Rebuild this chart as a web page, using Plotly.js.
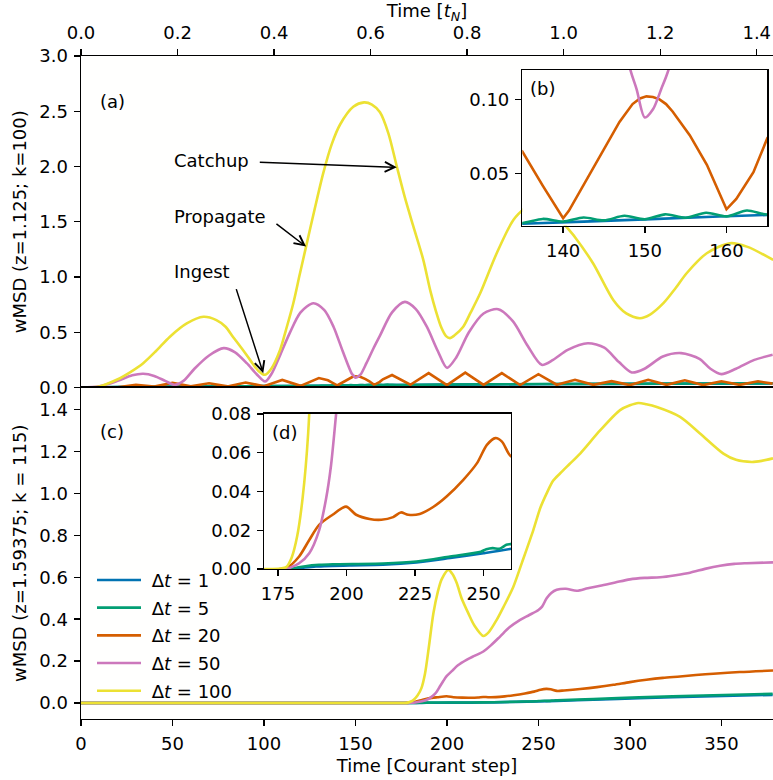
<!DOCTYPE html>
<html><head><meta charset="utf-8">
<script src="https://cdn.plot.ly/plotly-3.0.1.min.js"></script>
<style>html,body{margin:0;padding:0;background:#fff}</style>
</head><body><div id="chart" style="width:773px;height:780px"></div>
<script>
// ---------- series labels & colours ----------
const seriesNames = ['\u00a0Δ<i>t</i> = 1', '\u00a0Δ<i>t</i> = 5', '\u00a0Δ<i>t</i> = 20', '\u00a0Δ<i>t</i> = 50', '\u00a0Δ<i>t</i> = 100'];
const seriesColors = ['#0173b2', '#029e73', '#d55e00', '#cc78bc', '#ece133'];

// ---------- panel (a): z=1.125, k=100 ----------
const aStepsDt1 = [0, 20, 50, 80, 100, 120, 135, 150, 165, 200, 250, 300, 340, 378];
const aWmsdDt1  = [0, 0.003, 0.007, 0.010, 0.012, 0.014, 0.0162, 0.0192, 0.0222, 0.026, 0.030, 0.033, 0.035, 0.037];

const aStepsDt5 = [0, 20, 50, 80, 100, 120, 130, 132.5, 135, 137.5, 140, 142.5, 145, 147.5, 150, 152.5, 155, 157.5, 160, 162.5, 165, 167.5, 170, 200, 250, 300, 340, 378];
const aWmsdDt5  = [0, 0.004, 0.008, 0.011, 0.013, 0.015, 0.0155, 0.0178, 0.0168, 0.0195, 0.0177, 0.0205, 0.0185, 0.0216, 0.0193, 0.0226, 0.0203, 0.0237, 0.0212, 0.0252, 0.0225, 0.0262, 0.0235, 0.027, 0.031, 0.034, 0.036, 0.038];

const aStepsDt20 = [0, 10, 20, 30, 40, 50, 60, 70, 80, 90, 100, 110, 120, 130, 135, 137.5, 140, 140.7, 142.8, 144.8, 146.9, 148.5, 149.4, 150.2, 151, 151.8, 152.6, 153.4, 155.5, 157.6, 160, 161.2, 163.3, 165, 170, 180, 190, 200, 210, 220, 230, 240, 250, 260, 270, 280, 290, 300, 310, 320, 330, 340, 350, 360, 370, 378];
const aWmsdDt20  = [0, 0.003, 0.002, 0.024, 0.008, 0.042, 0.012, 0.038, 0.010, 0.045, 0.012, 0.068, 0.015, 0.086, 0.065, 0.042, 0.020, 0.025, 0.045, 0.065, 0.085, 0.097, 0.1008, 0.1022, 0.1018, 0.1002, 0.097, 0.092, 0.076, 0.056, 0.026, 0.033, 0.051, 0.074, 0.113, 0.025, 0.13, 0.022, 0.135, 0.024, 0.13, 0.022, 0.12, 0.025, 0.07, 0.024, 0.057, 0.022, 0.07, 0.024, 0.065, 0.022, 0.056, 0.024, 0.056, 0.035];

const aStepsDt50 = [0, 10, 20, 28, 34, 40, 46, 51, 56, 62, 70, 78, 84, 90.6, 96, 100.6, 104, 109, 114, 120, 127, 133, 138, 143, 148, 149, 150, 151, 152, 153, 156, 160, 163.4, 170, 177, 183, 189, 195, 200, 205, 212, 220, 228, 236, 244, 251.8, 258, 266, 277, 286, 294, 301, 308, 318, 328, 338, 344, 350, 358, 368, 378];
const aWmsdDt50  = [0, 0.01, 0.06, 0.11, 0.124, 0.105, 0.06, 0.024, 0.06, 0.17, 0.29, 0.356, 0.32, 0.22, 0.12, 0.054, 0.12, 0.3, 0.49, 0.68, 0.763, 0.7, 0.55, 0.33, 0.125, 0.107, 0.088, 0.0935, 0.107, 0.122, 0.22, 0.36, 0.47, 0.68, 0.775, 0.71, 0.55, 0.33, 0.178, 0.27, 0.5, 0.67, 0.709, 0.6, 0.38, 0.205, 0.25, 0.34, 0.4, 0.36, 0.23, 0.136, 0.17, 0.28, 0.311, 0.26, 0.17, 0.121, 0.17, 0.25, 0.296];

const aStepsDt100 = [0, 10, 19.5, 27, 34, 41, 48.6, 57.8, 66.9, 74, 79, 83, 88, 92.4, 97, 100.6, 104, 108.8, 112, 116, 119.5, 123, 127.5, 132.4, 137, 141.6, 148.8, 154.7, 159, 163.4, 168, 172.6, 177, 181.6, 187, 191, 194, 197, 199.5, 201.7, 204, 208.9, 213, 218.1, 227.2, 236.3, 243.6, 251, 256, 262, 270, 280, 291, 298, 305.5, 311, 318.3, 325, 331, 342, 354.7, 363.9, 378.3];
const aWmsdDt100  = [0, 0.01, 0.07, 0.14, 0.22, 0.33, 0.46, 0.58, 0.64, 0.61, 0.55, 0.46, 0.35, 0.25, 0.15, 0.115, 0.17, 0.34, 0.52, 0.76, 1.02, 1.275, 1.6, 1.94, 2.2, 2.38, 2.54, 2.58, 2.56, 2.49, 2.3, 2.0, 1.72, 1.46, 1.16, 0.87, 0.69, 0.54, 0.465, 0.447, 0.47, 0.55, 0.68, 0.85, 1.215, 1.516, 1.637, 1.72, 1.68, 1.52, 1.36, 1.12, 0.79, 0.67, 0.627, 0.66, 0.763, 0.9, 1.034, 1.215, 1.306, 1.275, 1.155];

// ---------- panel (c): z=1.59375, k=115 ----------
const cStepsDt1 = [0, 178, 182.7, 188.8, 201, 213.3, 225.5, 237.8, 250, 260.2, 280, 305, 340, 378];
const cWmsdDt1  = [0, 0, 0.0005, 0.0013, 0.0019, 0.0022, 0.0034, 0.0057, 0.0082, 0.0105, 0.016, 0.023, 0.032, 0.039];

const cStepsDt5 = [0, 180, 181, 185, 190, 194.9, 213.3, 225.5, 237.8, 249, 251, 253.3, 255.8, 258.3, 260.2, 280, 305, 340, 378];
const cWmsdDt5  = [0, 0, 0.0005, 0.0015, 0.0022, 0.0025, 0.0029, 0.0039, 0.0065, 0.009, 0.0102, 0.0108, 0.0105, 0.0125, 0.013, 0.019, 0.027, 0.036, 0.044];

const cStepsDt20 = [0, 176, 178.4, 182.7, 186.4, 190, 194.9, 199.8, 203.5, 208.4, 212.7, 217, 219.8, 222.5, 226.7, 231.6, 236.5, 242.6, 247.6, 251.2, 254.3, 256.7, 260.1, 264, 272.8, 282, 291, 300, 309, 318, 327.4, 336, 345.6, 360, 378.2];
const cWmsdDt20  = [0, 0, 0.0008, 0.0065, 0.015, 0.0228, 0.028, 0.0322, 0.028, 0.0258, 0.0254, 0.0268, 0.0292, 0.028, 0.0284, 0.032, 0.0374, 0.046, 0.0546, 0.064, 0.0675, 0.0657, 0.058, 0.06, 0.067, 0.076, 0.087, 0.1, 0.111, 0.12, 0.127, 0.134, 0.14, 0.148, 0.155];

const cStepsDt50 = [0, 178, 179, 182.7, 186.4, 190, 192.5, 194.3, 196.2, 198, 199.7, 203, 206, 210.7, 215, 219.9, 224, 229, 234, 240, 245, 250, 252, 254.5, 257, 260, 265, 271, 277, 283.7, 292, 300, 308, 316.5, 325, 332.9, 341, 349.3, 357, 363.9, 378.2];
const cWmsdDt50  = [0, 0, 0.0005, 0.003, 0.0082, 0.020, 0.036, 0.053, 0.080, 0.105, 0.127, 0.155, 0.18, 0.206, 0.225, 0.246, 0.275, 0.317, 0.36, 0.397, 0.42, 0.444, 0.46, 0.50, 0.525, 0.54, 0.545, 0.536, 0.548, 0.559, 0.575, 0.59, 0.597, 0.60, 0.61, 0.622, 0.64, 0.655, 0.664, 0.667, 0.671];

const cStepsDt100 = [0, 170, 176, 178, 180, 182, 184, 186, 188, 190, 192.6, 195, 197.1, 200.8, 203, 205.4, 208, 211.7, 215, 219.9, 223, 227.2, 231, 236.3, 241, 247.2, 251, 254.5, 258, 261.8, 267, 272.8, 283.7, 294.6, 300, 304.6, 309, 314.7, 327.4, 338.3, 351.1, 358, 366.6, 372, 378.2];
const cWmsdDt100  = [0, 0, 0.0003, 0.001, 0.006, 0.017, 0.037, 0.07, 0.14, 0.26, 0.428, 0.53, 0.59, 0.635, 0.615, 0.571, 0.5, 0.428, 0.37, 0.32, 0.34, 0.397, 0.46, 0.555, 0.67, 0.825, 0.93, 1.0, 1.06, 1.095, 1.14, 1.19, 1.30, 1.397, 1.42, 1.431, 1.425, 1.412, 1.365, 1.286, 1.19, 1.16, 1.15, 1.155, 1.167];

// ---------- axes ticks ----------
const stepsPerTN = 263.8;           // Courant steps per t_N
const xMaxSteps = 378.2;
const topTicks = [0, 0.2, 0.4, 0.6, 0.8, 1.0, 1.2, 1.4];
const bottomTicks = [0, 50, 100, 150, 200, 250, 300, 350];
const aYTicks = [0, 0.5, 1.0, 1.5, 2.0, 2.5, 3.0];
const cYTicks = [0, 0.2, 0.4, 0.6, 0.8, 1.0, 1.2, 1.4];
const bXTicks = [140, 150, 160];
const bYTicks = [0.05, 0.10];
const dXTicks = [175, 200, 225, 250];
const dYTicks = [0, 0.02, 0.04, 0.06, 0.08];

const aSeries = [[aStepsDt1, aWmsdDt1], [aStepsDt5, aWmsdDt5], [aStepsDt20, aWmsdDt20], [aStepsDt50, aWmsdDt50], [aStepsDt100, aWmsdDt100]];
const cSeries = [[cStepsDt1, cWmsdDt1], [cStepsDt5, cWmsdDt5], [cStepsDt20, cWmsdDt20], [cStepsDt50, cWmsdDt50], [cStepsDt100, cWmsdDt100]];

const LW = 2.6;
const traces = [];
function addPanel(series, xa, ya, legend, panelA) {
  series.forEach((s, i) => {
    // panel (a) Δt=20 has sharp V minima: keep it piecewise linear
    const shape = (panelA && i === 2) ? 'linear' : 'spline';
    traces.push({
      x: s[0], y: s[1], xaxis: xa, yaxis: ya, type: 'scatter', mode: 'lines',
      name: seriesNames[i], legendgroup: 'g' + i, showlegend: legend,
      line: {color: seriesColors[i], width: LW, shape: shape, smoothing: 0.8},
      hoverinfo: 'skip'
    });
  });
}
addPanel(aSeries, 'x', 'y', false, true);
addPanel(cSeries, 'x2', 'y2', true, false);
addPanel(aSeries, 'x3', 'y3', false, true);
addPanel(cSeries, 'x4', 'y4', false, false);
// carrier for the top t_N axis (no visible marks)
traces.push({x: topTicks, y: topTicks.map(() => null), xaxis: 'x5', yaxis: 'y', mode: 'lines', showlegend: false, hoverinfo: 'skip'});

const FONT = {family: 'DejaVu Sans, sans-serif', size: 18, color: 'black'};
const base = {showline: true, linecolor: 'black', linewidth: 1.4, ticks: 'outside', ticklen: 6, tickwidth: 1.4,
  tickcolor: 'black', showgrid: false, zeroline: false, mirror: true, tickfont: FONT, ticklabelstandoff: 2};

const layout = {
  width: 773, height: 780,
  margin: {l: 81, r: 0, t: 56, b: 60.7, pad: 0},
  paper_bgcolor: 'white', plot_bgcolor: 'rgb(255,255,254)',
  font: FONT,
  showlegend: true,
  legend: {x: 0.0159, xanchor: 'left', y: 0.2372, yanchor: 'top', bgcolor: 'rgba(0,0,0,0)', borderwidth: 0,
    font: FONT, traceorder: 'grouped', tracegroupgap: 1.3, itemwidth: 44},
  xaxis: Object.assign({}, base, {domain: [0, 1], range: [0, xMaxSteps], anchor: 'y', showticklabels: false, ticks: '', showline: false}),
  yaxis: Object.assign({}, base, {domain: [0.5, 1], range: [0, 3.0], anchor: 'x', tickvals: aYTicks, tickformat: '.1f',
    title: {text: 'wMSD (z=1.125; k=100)', font: FONT, standoff: 8}}),
  xaxis2: Object.assign({}, base, {domain: [0, 1], range: [0, xMaxSteps], anchor: 'y2', tickvals: bottomTicks,
    title: {text: 'Time [Courant step]', font: FONT, standoff: 6}}),
  yaxis2: Object.assign({}, base, {domain: [0, 0.5], range: [-0.076, 1.505], anchor: 'x2', tickvals: cYTicks, tickformat: '.1f',
    title: {text: 'wMSD (z=1.59375; k = 115)', font: FONT, standoff: 8}}),
  xaxis3: Object.assign({}, base, {domain: [0.6377, 0.9918], range: [135, 165], anchor: 'y3', tickvals: bXTicks}),
  yaxis3: Object.assign({}, base, {domain: [0.7442, 0.9789], range: [0.015, 0.12], anchor: 'x3', tickvals: bYTicks, tickformat: '.2f'}),
  xaxis4: Object.assign({}, base, {domain: [0.2649, 0.6214], range: [170, 260], anchor: 'y4', tickvals: dXTicks}),
  yaxis4: Object.assign({}, base, {domain: [0.2261, 0.4603], range: [0, 0.08], anchor: 'x4', tickvals: dYTicks, tickformat: '.2f'}),
  xaxis5: Object.assign({}, base, {overlaying: 'x', side: 'top', anchor: 'y', range: [0, xMaxSteps / stepsPerTN],
    tickvals: topTicks, tickformat: '.1f', mirror: false,
    title: {text: 'Time [<i>t</i><sub><i>N</i></sub>]', font: FONT, standoff: 4}}),
  annotations: [
    {xref: 'paper', yref: 'paper', x: 0.0245, y: 0.9311, text: '(a)', showarrow: false, xanchor: 'left', yanchor: 'middle', font: FONT},
    {xref: 'paper', yref: 'paper', x: 0.6455, y: 0.9513, text: '(b)', showarrow: false, xanchor: 'left', yanchor: 'middle', font: FONT},
    {xref: 'paper', yref: 'paper', x: 0.0245, y: 0.4336, text: '(c)', showarrow: false, xanchor: 'left', yanchor: 'middle', font: FONT},
    {xref: 'paper', yref: 'paper', x: 0.2737, y: 0.4327, text: '(d)', showarrow: false, xanchor: 'left', yanchor: 'middle', font: FONT},
    {xref: 'x', yref: 'y', x: 49.5, y: 2.05, text: 'Catchup', showarrow: false, xanchor: 'left', yanchor: 'middle', font: FONT},
    {xref: 'x', yref: 'y', x: 49.5, y: 1.546, text: 'Propagate', showarrow: false, xanchor: 'left', yanchor: 'middle', font: FONT},
    {xref: 'x', yref: 'y', x: 49.5, y: 1.049, text: 'Ingest', showarrow: false, xanchor: 'left', yanchor: 'middle', font: FONT},
    {xref: 'x', yref: 'y', axref: 'x', ayref: 'y', x: 172.6, y: 1.993, ax: 96.9, ay: 2.038, text: '', showarrow: true,
      arrowhead: 5, arrowsize: 1.3, arrowwidth: 1.5, arrowcolor: 'black', standoff: 0, startstandoff: 0},
    {xref: 'x', yref: 'y', axref: 'x', ayref: 'y', x: 123, y: 1.275, ax: 106, ay: 1.492, text: '', showarrow: true,
      arrowhead: 5, arrowsize: 1.3, arrowwidth: 1.5, arrowcolor: 'black', standoff: 0, startstandoff: 0},
    {xref: 'x', yref: 'y', axref: 'x', ayref: 'y', x: 99.6, y: 0.13, ax: 84.6, ay: 0.904, text: '', showarrow: true,
      arrowhead: 5, arrowsize: 1.3, arrowwidth: 1.5, arrowcolor: 'black', standoff: 0, startstandoff: 0}
  ]
};

Plotly.newPlot('chart', traces, layout, {staticPlot: true, displayModeBar: false});
</script></body></html>
